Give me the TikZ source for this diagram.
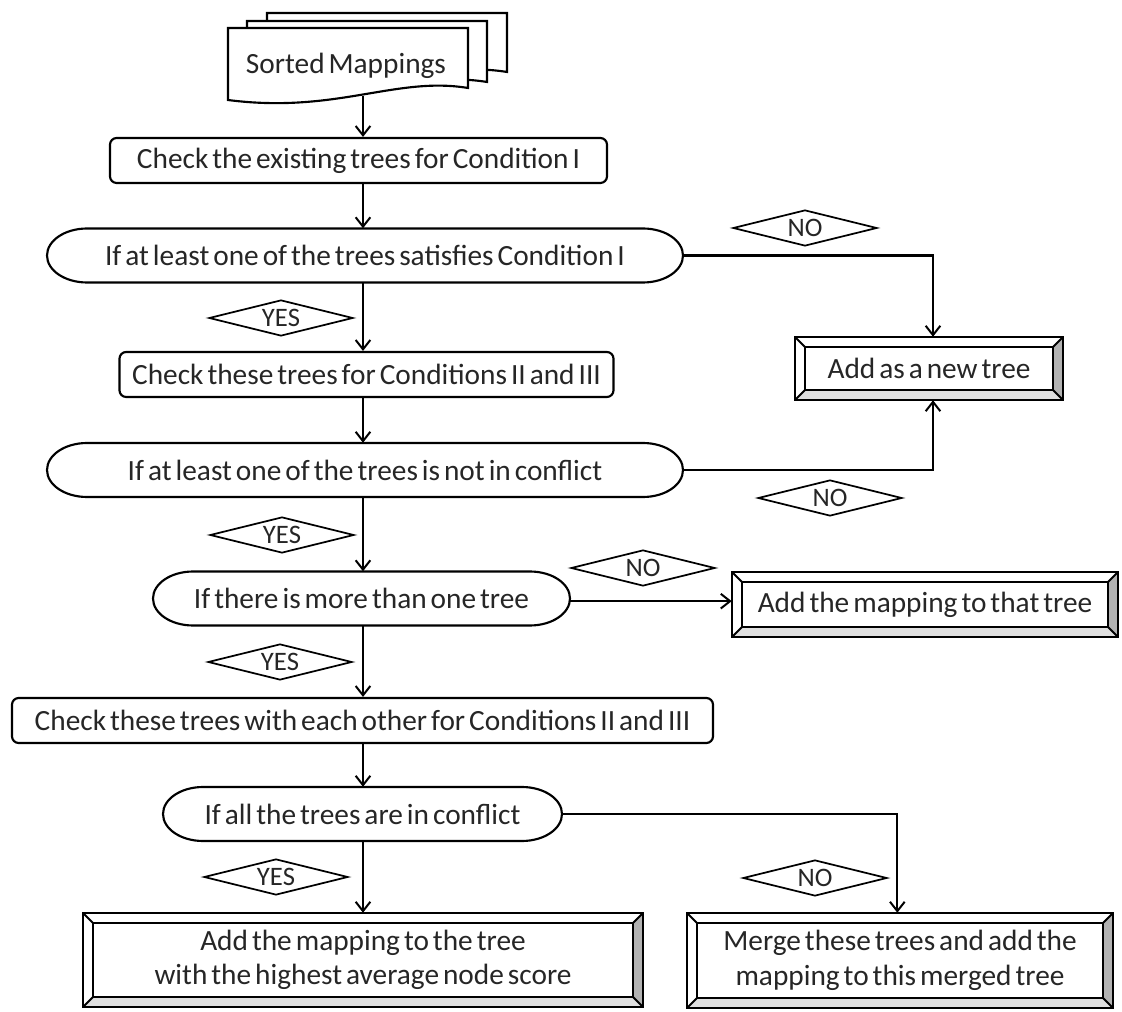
\documentclass[tikz,border=0pt]{standalone}
\usepackage{fontspec}
\setmainfont{Carlito}[WordSpace=0.6]
\usetikzlibrary{shapes.geometric,arrows.meta,calc}
\newcommand\mainsize{\fontsize{22pt}{26pt}\selectfont}
\newcommand\anssize{\fontsize{20pt}{22pt}\selectfont}
\tikzset{
  conn/.style={line width=1.6pt,-{Straight Barb[length=7pt,width=11pt,line width=1.5pt]}},
  procbox/.style={draw,line width=1.6pt,rounded corners=5pt,fill=white,inner sep=0pt,font=\mainsize,text=black!85},
  decline/.style={draw,line width=1.6pt,fill=white},
  plainnode/.style={inner sep=0pt,font=\mainsize,align=center,text=black!85},
  answer/.style={draw,diamond,shape aspect=4,line width=1.3pt,inner sep=0pt,minimum width=108pt,minimum height=27pt,font=\anssize,fill=white,text=black!85},
  bevthin/.style={line width=1.4pt},
  bevthick/.style={line width=2pt},
}
% decision shape: name, cx, cy, half width, text
\newcommand\decisionshape[5]{%
  \draw[decline] ({#2-#4+40},{#3-27}) -- ({#2+#4-40},{#3-27})
     arc[start angle=90,end angle=-90,x radius=30pt,y radius=20.25pt]
     -- ({#2-#4+40},{#3+27})
     arc[start angle=270,end angle=90,x radius=30pt,y radius=20.25pt] -- cycle;
  \node[plainnode,minimum width={2*#4*0.75pt},minimum height=40.5pt] (#1) at (#2,#3) {#5};
}
% bevel box: name, x1, y1, x2, y2, text
\newcommand\bevelbox[6]{%
  \fill[white] (#2,#3) rectangle (#4,#5);
  \fill[gray!60] (#4,#3) -- (#4,#5) -- ({#4-10},{#5-10}) -- ({#4-10},{#3+10}) -- cycle;
  \fill[gray!25] (#2,#5) -- (#4,#5) -- ({#4-10},{#5-10}) -- ({#2+10},{#5-10}) -- cycle;
  \draw[bevthin] ({#2+10},{#3+10}) rectangle ({#4-10},{#5-10});
  \draw[bevthin] (#2,#3) -- ({#2+10},{#3+10}) (#4,#3) -- ({#4-10},{#3+10})
                 (#2,#5) -- ({#2+10},{#5-10}) (#4,#5) -- ({#4-10},{#5-10});
  \draw[bevthick] (#2,#3) rectangle (#4,#5);
  \node[plainnode,minimum width={(#4-#2)*0.75pt},minimum height={(#5-#3)*0.75pt}] (#1) at ({(#2+#4)/2},{(#3+#5)/2}) {#6};
}
% document shape: left, top, right, bottom
\newcommand\docshape[4]{%
  \draw[decline] (#1,#2) -- (#3,#2) -- (#3,{#4-12})
    .. controls ({#3-0.3*(#3-#1)},{#4-24}) and ({#1+0.45*(#3-#1)},{#4+14}) .. (#1,#4) -- cycle;
}
\begin{document}
\begin{tikzpicture}[x=0.75pt,y=-0.75pt]
\useasboundingbox (0,0) rectangle (1122,1012);
\coordinate (col) at (363,0);

% sorted mappings
\docshape{267}{13}{507}{84}
\docshape{247}{21}{487}{94}
\docshape{228}{28}{468}{100}
\node[plainnode] (sorted) at (346,66) {Sorted Mappings};
\coordinate (sortbot) at (363,96);

% process boxes
\node[procbox,minimum width={497*0.75pt},minimum height={45*0.75pt}] (c1) at (358.5,160.5) {Check the existing trees for Condition I};
\decisionshape{d1}{365}{255.5}{318}{If at least one of the trees satisfies Condition I}
\node[procbox,minimum width={494*0.75pt},minimum height={45*0.75pt}] (c2) at (366.5,374.5) {Check these trees for Conditions II and III};
\decisionshape{d2}{365}{470}{318}{If at least one of the trees is not in conflict}
\decisionshape{d3}{361.5}{598.5}{208.5}{If there is more than one tree}
\node[procbox,minimum width={701*0.75pt},minimum height={45*0.75pt}] (c3) at (362.5,720.5) {Check these trees with each other for Conditions II and III};
\decisionshape{d4}{362.5}{814}{199.5}{If all the trees are in conflict}

% terminal boxes
\bevelbox{b1}{795}{337}{1063}{400}{Add as a new tree}
\bevelbox{b2}{732}{572}{1118}{637}{Add the mapping to that tree}
\bevelbox{b3}{83}{913}{643}{1007}{Add the mapping to the tree\\with the highest average node score}
\bevelbox{b4}{687}{913}{1113}{1008}{Merge these trees and add the\\mapping to this merged tree}

% answers
\node[answer] (n1) at (805,228) {NO};
\node[answer] (y1) at (281,318) {YES};
\node[answer] (n2) at (830,498) {NO};
\node[answer] (y2) at (282,535) {YES};
\node[answer] (n3) at (643,568) {NO};
\node[answer] (y3) at (280,662) {YES};
\node[answer] (n4) at (815,878) {NO};
\node[answer] (y4) at (276,877) {YES};

% connectors
\draw[conn] (sortbot) -- (col |- c1.north);
\draw[conn] (col |- c1.south) -- (col |- d1.north);
\draw[conn] (d1.east) -| ([xshift=3pt]b1.north);
\draw[conn] (col |- d1.south) -- (col |- c2.north);
\draw[conn] (col |- c2.south) -- (col |- d2.north);
\draw[conn] (d2.east) -| ([xshift=3pt]b1.south);
\draw[conn] (col |- d2.south) -- (col |- d3.north);
\draw[conn] ([yshift=-2pt]d3.east) -- ([yshift=-2pt]d3.east -| b2.west);
\draw[conn] (col |- d3.south) -- (col |- c3.north);
\draw[conn] (col |- c3.south) -- (col |- d4.north);
\draw[conn] (col |- d4.south) -- (col |- b3.north);
\draw[conn] (d4.east) -| ([xshift=-2pt]b4.north);
\end{tikzpicture}
\end{document}
